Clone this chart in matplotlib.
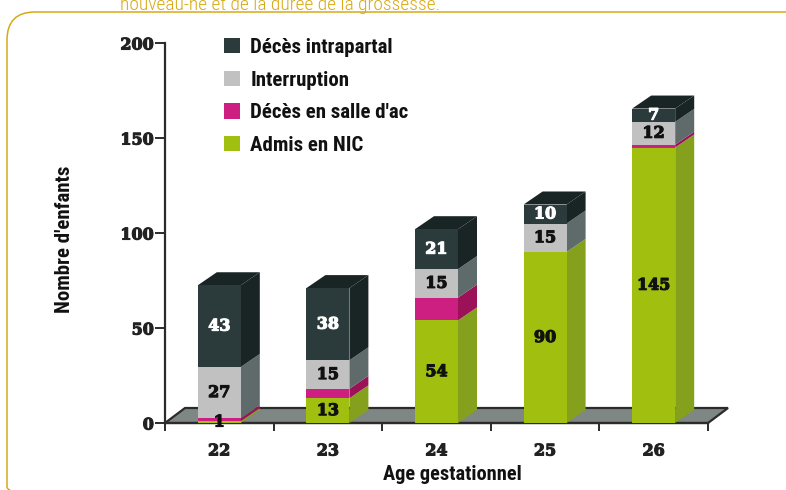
import matplotlib
matplotlib.use("Agg")
import matplotlib.pyplot as plt
import matplotlib.patheffects as pe
from matplotlib.patches import Polygon, FancyBboxPatch

W, H = 786, 490
categories = ["22", "23", "24", "25", "26"]
admis = [1, 13, 54, 90, 145]
salle = [1.5, 5, 12, 0, 1.5]
interruption = [27, 15, 15, 15, 12]
intrapartal = [43, 38, 21, 10, 7]
series_names = ["Admis en NIC", "Décès en salle d'ac", "Interruption", "Décès intrapartal"]
series_values = [admis, salle, interruption, intrapartal]
front_colors = ["#a0bf0e", "#cd1f82", "#c1c1c1", "#2b3a3a"]
side_colors = ["#84a01c", "#9c1258", "#5f6a6a", "#192424"]
label_colors = {0: "#111111", 2: "#111111", 3: "#ffffff"}
y_ticks = [0, 50, 100, 150, 200]
title_fragment = "nouveau-né et de la durée de la grossesse."
xlabel = "Age gestationnel"
ylabel = "Nombre d'enfants"
GOLD = "#d8a917"
FLOOR = "#7f8784"
AXC = "#2b2b2b"
COND = "Roboto Condensed"
SLAB = "DejaVu Serif"

fig = plt.figure(figsize=(W / 100, H / 100), dpi=100)
x0, x1, ytop, ybot = 165, 708, 43, 423
ax = fig.add_axes([x0 / W, 1 - ybot / H, (x1 - x0) / W, (ybot - ytop) / H])
ax.set_xlim(0, 5)
ax.set_ylim(0, 200)
ax.patch.set_alpha(0)
px_x = 5 / (x1 - x0)
px_y = 200 / (ybot - ytop)

# Floor
fdx, fdy = 20 * px_x, 15 * px_y
ax.add_patch(Polygon([(0, 0), (5, 0), (5 + fdx, fdy), (fdx, fdy)], closed=True,
                     fc=FLOOR, ec=AXC, lw=1.6, clip_on=False, zorder=1))

# Bars with depth
positions = [i + 0.5 for i in range(len(categories))]
bw = 43 * px_x
dx, dy = 19 * px_x, 13 * px_y
bottoms = [0.0] * len(categories)
for s, vals in enumerate(series_values):
    ax.bar(positions, vals, bottom=bottoms, width=bw, color=front_colors[s],
           label=series_names[s], zorder=3, clip_on=False)
    for i, v in enumerate(vals):
        if v == 0:
            continue
        r = positions[i] + bw / 2
        b = bottoms[i]
        ax.add_patch(Polygon([(r, b), (r + dx, b + dy), (r + dx, b + v + dy), (r, b + v)],
                             closed=True, fc=side_colors[s], ec="none", zorder=2.9, clip_on=False))
        if s in label_colors:
            c = label_colors[s]
            ax.text(positions[i], b + v / 2, str(v), ha="center", va="center", color=c,
                    fontsize=11.5, family=SLAB, weight="bold", zorder=5,
                    path_effects=[pe.withStroke(linewidth=0.8, foreground=c)])
    bottoms = [b + v for b, v in zip(bottoms, vals)]

# Bar tops
for i, t in enumerate(bottoms):
    l, r = positions[i] - bw / 2, positions[i] + bw / 2
    ax.add_patch(Polygon([(l, t), (r, t), (r + dx, t + dy), (l + dx, t + dy)], closed=True,
                         fc=side_colors[3], ec="none", zorder=2.9, clip_on=False))

# Axes
for side in ("top", "right"):
    ax.spines[side].set_visible(False)
for side in ("left", "bottom"):
    ax.spines[side].set_color(AXC)
    ax.spines[side].set_linewidth(1.6)
ax.set_yticks(y_ticks)
ax.set_xticks(range(6))
ax.set_xticklabels([])
ax.set_xticks(positions, categories, minor=True)
ax.tick_params(axis="x", which="minor", length=0, pad=14)
ax.tick_params(axis="x", which="major", length=6, width=1.4, color=AXC)
ax.tick_params(axis="y", length=7, width=1.4, color=AXC, pad=1)
for t in ax.get_yticklabels() + ax.get_xticklabels(minor=True):
    t.set_family(SLAB)
    t.set_weight("bold")
    t.set_fontsize(11.5)
    t.set_color("#222222")
    t.set_path_effects([pe.withStroke(linewidth=0.8, foreground="#222222")])

fig.text(452 / W, 1 - 474 / H, xlabel, ha="center", va="center", family=COND,
         weight="bold", fontsize=14.7, color="#111111")
fig.text(65 / W, 1 - 239 / H, ylabel, ha="center", va="center", rotation=90, family=COND,
         weight="bold", fontsize=15, color="#111111")

# Legend
h, l = ax.get_legend_handles_labels()
leg = ax.legend(h[::-1], l[::-1], loc="upper left",
                bbox_to_anchor=((218 - x0) / (x1 - x0), 1.03), frameon=False,
                prop={"family": COND, "weight": "bold", "size": 15},
                handlelength=0.75, handleheight=0.75, handletextpad=0.5,
                labelspacing=0.66, borderpad=0.3, borderaxespad=0)
for t in leg.get_texts():
    t.set_color("#111111")

# Page furniture: rounded frame and clipped title above it
bg = fig.add_axes([0, 0, 1, 1], zorder=-1)
bg.set_xlim(0, W)
bg.set_ylim(H, 0)
bg.axis("off")
bg.add_patch(FancyBboxPatch((7, 12), 805, 503, boxstyle="round,pad=0,rounding_size=28",
                            fc="none", ec=GOLD, lw=1.1, mutation_scale=1, clip_on=True))
bg.text(120, 10, title_fragment, ha="left", va="baseline", color=GOLD, family=COND,
        weight="light", fontsize=14, clip_on=False)

fig.savefig("out.png", dpi=100, facecolor="white")
